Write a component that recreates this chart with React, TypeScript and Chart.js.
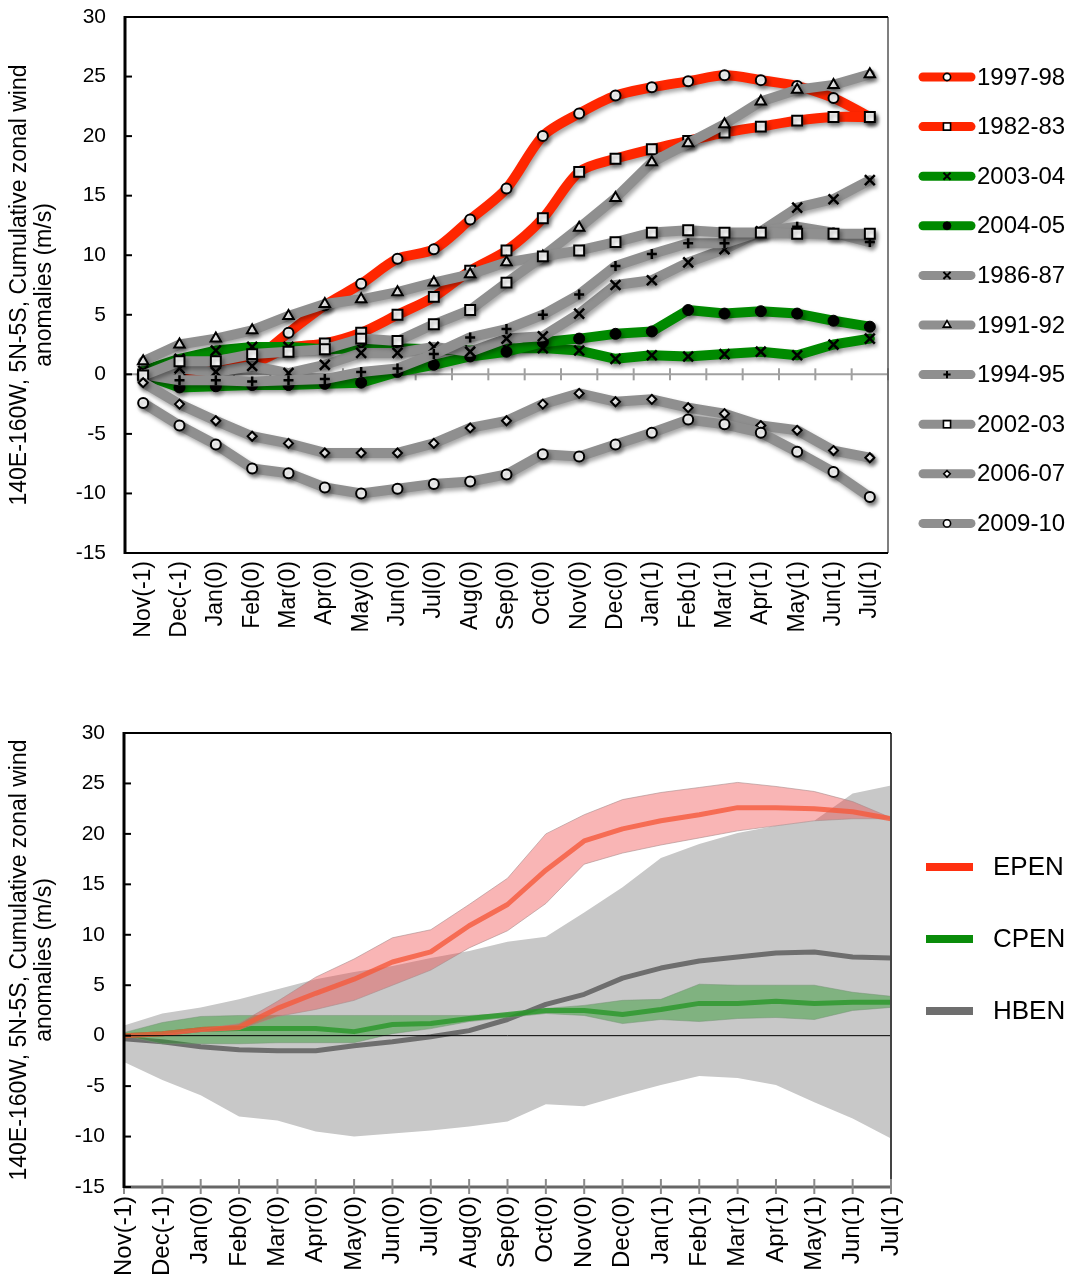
import React, { useEffect, useRef } from 'react';
import { Chart, registerables } from 'chart.js';
import { drawPoint } from 'chart.js/helpers';

Chart.register(...registerables);

const FONT = "'Liberation Sans', Arial, Helvetica, sans-serif";
Chart.defaults.font.family = FONT;
Chart.defaults.color = '#000';

// ---------------- data ----------------
const MONTHS = ['Nov(-1)', 'Dec(-1)', 'Jan(0)', 'Feb(0)', 'Mar(0)', 'Apr(0)', 'May(0)', 'Jun(0)', 'Jul(0)', 'Aug(0)', 'Sep(0)', 'Oct(0)', 'Nov(0)', 'Dec(0)', 'Jan(1)', 'Feb(1)', 'Mar(1)', 'Apr(1)', 'May(1)', 'Jun(1)', 'Jul(1)'];
const Y_MIN = -15;
const Y_MAX = 30;
const Y_STEP = 5;
const Y_TITLE = ['140E-160W, 5N-5S, Cumulative zonal wind', 'anomalies (m/s)'];

const EVENT_LABELS = ['1997-98', '1982-83', '2003-04', '2004-05', '1986-87', '1991-92', '1994-95', '2002-03', '2006-07', '2009-10'];
const EV_1997_98 = [0, -0.1, 0.5, 1.2, 3.5, 5.8, 7.6, 9.7, 10.5, 13.0, 15.6, 20.0, 21.9, 23.4, 24.1, 24.6, 25.1, 24.7, 24.2, 23.2, 21.6];
const EV_1982_83 = [0, 0, 0.3, 0.9, 2.2, 2.6, 3.5, 5.0, 6.5, 8.7, 10.4, 13.1, 17.0, 18.1, 18.9, 19.6, 20.3, 20.8, 21.3, 21.6, 21.6];
const EV_2003_04 = [0.3, 1.3, 2.0, 2.3, 2.3, 2.1, 2.2, 2.2, 2.1, 2.0, 2.2, 2.2, 2.0, 1.3, 1.6, 1.5, 1.7, 1.9, 1.6, 2.5, 3.0];
const EV_2004_05 = [0, -1.1, -1.0, -0.9, -0.9, -0.8, -0.7, 0.2, 0.8, 1.5, 1.9, 2.7, 3.0, 3.4, 3.6, 5.4, 5.1, 5.3, 5.1, 4.5, 4.0];
const EV_1986_87 = [0, 0.5, 0.2, 0.7, 0.1, 0.8, 1.8, 1.8, 2.3, 1.9, 3.0, 3.2, 5.1, 7.5, 7.9, 9.4, 10.5, 12.0, 14.0, 14.7, 16.3];
const EV_1991_92 = [1.1, 2.5, 3.0, 3.7, 4.9, 5.9, 6.3, 6.9, 7.7, 8.4, 9.4, 9.9, 12.3, 14.8, 17.8, 19.4, 21.0, 22.9, 23.9, 24.3, 25.2];
const EV_1994_95 = [0, -0.5, -0.5, -0.6, -0.5, -0.4, 0.2, 0.5, 1.7, 3.1, 3.8, 5.0, 6.7, 9.1, 10.1, 11.0, 11.0, 12.0, 12.4, 11.9, 11.1];
const EV_2002_03 = [-0.1, 1.1, 1.1, 1.7, 1.9, 2.1, 3.0, 2.8, 4.2, 5.4, 7.7, 9.9, 10.4, 11.1, 11.9, 12.1, 11.9, 11.9, 11.8, 11.8, 11.8];
const EV_2006_07 = [-0.7, -2.5, -3.9, -5.2, -5.8, -6.6, -6.6, -6.6, -5.8, -4.5, -3.9, -2.5, -1.6, -2.3, -2.1, -2.8, -3.3, -4.3, -4.7, -6.4, -7.0];
const EV_2009_10 = [-2.4, -4.3, -5.9, -7.9, -8.3, -9.5, -10.0, -9.6, -9.2, -9.0, -8.4, -6.7, -6.9, -5.9, -4.9, -3.8, -4.2, -4.9, -6.5, -8.2, -10.3];
const EVENT_VALUES = [EV_1997_98, EV_1982_83, EV_2003_04, EV_2004_05, EV_1986_87, EV_1991_92, EV_1994_95, EV_2002_03, EV_2006_07, EV_2009_10];

const GROUP_LABELS = ['EPEN', 'CPEN', 'HBEN'];
const EPEN_MEAN = [0, 0.2, 0.6, 0.8, 2.7, 4.2, 5.6, 7.3, 8.3, 10.9, 13.0, 16.4, 19.3, 20.5, 21.3, 21.9, 22.6, 22.6, 22.5, 22.2, 21.5];
const EPEN_HIGH = [0, 0.1, 0.6, 1.2, 3.4, 5.8, 7.6, 9.7, 10.5, 13.0, 15.6, 20.0, 21.9, 23.4, 24.1, 24.6, 25.1, 24.7, 24.2, 23.2, 21.6];
const EPEN_LOW = [0, 0, 0.4, 0.6, 1.9, 2.6, 3.5, 5.0, 6.5, 8.7, 10.4, 13.1, 17.0, 18.1, 18.9, 19.6, 20.3, 20.8, 21.3, 21.5, 21.5];
const CPEN_MEAN = [0, 0.2, 0.6, 0.7, 0.7, 0.7, 0.4, 1.1, 1.2, 1.7, 2.1, 2.5, 2.5, 2.1, 2.6, 3.2, 3.2, 3.4, 3.2, 3.3, 3.3];
const CPEN_HIGH = [0.3, 1.3, 1.9, 2.0, 2.0, 2.0, 2.0, 2.0, 2.0, 2.0, 2.2, 2.7, 3.0, 3.5, 3.6, 5.1, 5.0, 5.0, 5.0, 4.3, 3.9];
const CPEN_LOW = [0, -0.8, -0.8, -0.8, -0.7, -0.7, -0.7, 0.2, 0.7, 1.4, 1.8, 2.2, 2.0, 1.2, 1.6, 1.4, 1.7, 1.8, 1.6, 2.5, 2.8];
const HBEN_MEAN = [-0.3, -0.6, -1.1, -1.4, -1.5, -1.5, -1.0, -0.6, -0.1, 0.5, 1.6, 3.1, 4.1, 5.7, 6.7, 7.4, 7.8, 8.2, 8.3, 7.8, 7.7];
const HBEN_HIGH = [1.0, 2.2, 2.8, 3.6, 4.6, 5.6, 6.3, 6.9, 7.7, 8.4, 9.3, 9.8, 12.2, 14.7, 17.6, 19.0, 20.1, 20.8, 21.3, 24.0, 24.8];
const HBEN_LOW = [-2.6, -4.4, -5.9, -8.0, -8.4, -9.5, -10.0, -9.7, -9.4, -9.0, -8.5, -6.8, -7.0, -5.9, -4.9, -4.0, -4.2, -4.9, -6.6, -8.2, -10.2];

// ---------------- styles ----------------
const RED = 'rgb(255,38,0)';
const GREEN = 'rgb(0,138,0)';
const GRAY = 'rgb(143,143,143)';
const EVENT_STYLES = [
  { color: RED, smooth: true, marker: 'circle', radius: 5, fill: '#fff', bw: 2 },
  { color: RED, smooth: true, marker: 'rect', radius: 7, fill: '#fff', bw: 2 },
  { color: GREEN, smooth: false, marker: 'crossRot', radius: 7, fill: '#000', bw: 2.5 },
  { color: GREEN, smooth: false, marker: 'circle', radius: 5.5, fill: '#000', bw: 1 },
  { color: GRAY, smooth: false, marker: 'crossRot', radius: 7, fill: '#000', bw: 2.5 },
  { color: GRAY, smooth: false, marker: 'triangle', radius: 6, fill: '#fff', bw: 2 },
  { color: GRAY, smooth: false, marker: 'cross', radius: 5, fill: '#000', bw: 2.5 },
  { color: GRAY, smooth: false, marker: 'rect', radius: 7, fill: '#fff', bw: 2 },
  { color: GRAY, smooth: false, marker: 'rectRot', radius: 4.5, fill: '#fff', bw: 2 },
  { color: GRAY, smooth: false, marker: 'circle', radius: 5, fill: '#fff', bw: 2 },
];

function line(ctx, x1, y1, x2, y2, color, w) {
  ctx.strokeStyle = color;
  ctx.lineWidth = w;
  ctx.beginPath();
  ctx.moveTo(x1, y1);
  ctx.lineTo(x2, y2);
  ctx.stroke();
}

function drawYTicksInside(chart) {
  const { ctx, chartArea: a, scales } = chart;
  scales.y.ticks.forEach((t) => {
    const y = scales.y.getPixelForValue(t.value);
    line(ctx, a.left, y, a.left + 7, y, '#000', 2);
  });
}

const topDecor = {
  id: 'topDecor',
  beforeDatasetsDraw(chart) {
    const { ctx, chartArea: a, scales } = chart;
    const y0 = scales.y.getPixelForValue(0);
    ctx.save();
    line(ctx, a.left, y0, a.right, y0, '#a0a0a0', 2);
    for (let i = 1; i <= MONTHS.length; i++) {
      const x = scales.x.getPixelForValue(i - 0.5);
      line(ctx, x, y0 - 6, x, y0 + 6, '#a0a0a0', 2);
    }
    ctx.restore();
    ctx.save();
    ctx.shadowColor = 'rgba(0,0,0,0.35)';
    ctx.shadowBlur = 4;
    ctx.shadowOffsetX = 2;
    ctx.shadowOffsetY = 3;
  },
  afterDatasetsDraw(chart) {
    const { ctx, chartArea: a } = chart;
    ctx.restore();
    ctx.save();
    line(ctx, a.right, a.top, a.right, a.bottom, '#555', 1.5);
    line(ctx, a.left, a.top, a.right, a.top, '#000', 2);
    line(ctx, a.left, a.bottom, a.right, a.bottom, '#000', 2);
    line(ctx, a.left, a.top - 1, a.left, a.bottom + 1, '#000', 3);
    drawYTicksInside(chart);
    ctx.restore();
  },
  afterDraw(chart) {
    const { ctx } = chart;
    ctx.save();
    chart.data.datasets.forEach((ds, i) => {
      const st = EVENT_STYLES[i];
      const y = 77 + i * 49.6;
      ctx.lineCap = 'round';
      line(ctx, 923, y, 971, y, st.color, 9);
      ctx.lineCap = 'butt';
      ctx.fillStyle = st.fill;
      ctx.strokeStyle = '#000';
      ctx.lineWidth = st.bw * 0.8;
      drawPoint(ctx, { pointStyle: st.marker, radius: st.radius * 0.72, borderWidth: st.bw * 0.8, rotation: 0 }, 947, y);
      ctx.fillStyle = '#000';
      ctx.font = `24px ${FONT}`;
      ctx.textBaseline = 'middle';
      ctx.textAlign = 'left';
      ctx.fillText(ds.label, 977, y + 1);
    });
    ctx.restore();
  },
};

const bottomDecor = {
  id: 'bottomDecor',
  afterDatasetsDraw(chart) {
    const { ctx, chartArea: a, scales } = chart;
    ctx.save();
    const y0 = scales.y.getPixelForValue(0);
    line(ctx, a.left, y0, a.right, y0, '#000', 1);
    line(ctx, a.right, a.top, a.right, a.bottom, '#444', 2);
    line(ctx, a.left, a.top, a.right, a.top, '#000', 2);
    line(ctx, a.left, a.bottom, a.right, a.bottom, '#666', 3);
    for (let i = 0; i < MONTHS.length; i++) {
      const x = scales.x.getPixelForValue(i);
      line(ctx, x, a.bottom - 8, x, a.bottom + 7, '#8a8a8a', 2);
    }
    line(ctx, a.left, a.top - 1, a.left, a.bottom + 1, '#000', 3);
    drawYTicksInside(chart);
    ctx.restore();
  },
  afterDraw(chart) {
    const { ctx } = chart;
    const colors = ['rgb(255,48,16)', 'rgb(10,140,10)', 'rgb(110,110,110)'];
    ctx.save();
    GROUP_LABELS.forEach((lab, i) => {
      const y = 212 + i * 72;
      ctx.lineCap = 'butt';
      line(ctx, 926, y, 973, y, colors[i], 8);
      ctx.fillStyle = '#000';
      ctx.font = `26px ${FONT}`;
      ctx.textBaseline = 'middle';
      ctx.textAlign = 'left';
      ctx.fillText(lab, 993, y + 1);
    });
    ctx.restore();
  },
};

function yScale(width) {
  return {
    min: Y_MIN,
    max: Y_MAX,
    grid: { display: false, drawTicks: true, tickLength: 19 },
    border: { display: false },
    ticks: { stepSize: Y_STEP, padding: 0, font: { size: 21 }, color: '#000' },
    title: { display: true, text: Y_TITLE, font: { size: 23, lineHeight: 1.1 }, padding: { top: 7, bottom: 0 }, color: '#000' },
    afterFit: (s) => { s.width = width; },
  };
}

function topConfig() {
  const datasets = EVENT_VALUES.map((vals, i) => {
    const st = EVENT_STYLES[i];
    return {
      label: EVENT_LABELS[i],
      data: vals,
      borderColor: st.color,
      backgroundColor: st.color,
      borderWidth: 10,
      borderCapStyle: 'round',
      borderJoinStyle: 'round',
      tension: st.smooth ? 0.3 : 0,
      pointStyle: st.marker,
      pointRadius: st.radius,
      pointBorderWidth: st.bw,
      pointBorderColor: '#000',
      pointBackgroundColor: st.fill,
      fill: false,
      order: EVENT_VALUES.length - i,
    };
  });
  return {
    type: 'line',
    data: { labels: MONTHS, datasets },
    options: {
      responsive: false,
      animation: false,
      events: [],
      layout: { autoPadding: false, padding: { top: 17, right: 184, left: 0, bottom: 0 } },
      plugins: { legend: { display: false }, tooltip: { enabled: false } },
      scales: {
        x: {
          offset: true,
          grid: { display: false, drawTicks: false },
          border: { display: false },
          ticks: { autoSkip: false, minRotation: 90, maxRotation: 90, padding: 8, font: { size: 23 }, color: '#000' },
          afterFit: (s) => { s.height = 102; },
        },
        y: yScale(125),
      },
    },
    plugins: [topDecor],
  };
}

function band(data, fillColor, edge, order) {
  return {
    label: '',
    data,
    borderColor: edge,
    borderWidth: 1,
    pointRadius: 0,
    backgroundColor: fillColor,
    fill: '+1',
    tension: 0,
    order,
  };
}
function edgeLine(data, edge, order) {
  return { label: '', data, borderColor: edge, borderWidth: 1, pointRadius: 0, fill: false, tension: 0, order };
}
function meanLine(label, data, color, order) {
  return { label, data, borderColor: color, borderWidth: 5, pointRadius: 0, fill: false, tension: 0, order, borderJoinStyle: 'round' };
}

function bottomConfig() {
  const last = MONTHS[MONTHS.length - 1];
  const datasets = [
    band(HBEN_HIGH, 'rgb(200,200,200)', 'transparent', 10),
    edgeLine(HBEN_LOW, 'transparent', 9),
    meanLine(GROUP_LABELS[2], HBEN_MEAN, 'rgb(110,110,110)', 8),
    band(CPEN_HIGH, 'rgba(40,150,40,0.45)', 'rgba(120,150,120,0.5)', 7),
    edgeLine(CPEN_LOW, 'rgba(120,150,120,0.5)', 6),
    meanLine(GROUP_LABELS[1], CPEN_MEAN, 'rgba(40,150,40,0.8)', 5),
    band(EPEN_HIGH, 'rgba(240,60,60,0.38)', 'rgba(170,140,140,0.6)', 4),
    edgeLine(EPEN_LOW, 'rgba(170,140,140,0.6)', 3),
    meanLine(GROUP_LABELS[0], EPEN_MEAN, 'rgba(245,90,60,0.8)', 2),
    {
      label: '',
      data: [{ x: last, y: EPEN_MEAN[EPEN_MEAN.length - 1] }, { x: last, y: Y_MIN }],
      borderColor: 'rgba(210,60,45,0.9)',
      borderWidth: 2,
      pointRadius: 0,
      fill: false,
      order: 1,
    },
  ];
  return {
    type: 'line',
    data: { labels: MONTHS, datasets },
    options: {
      responsive: false,
      animation: false,
      events: [],
      layout: { autoPadding: false, padding: { top: 78, right: 181, left: 0, bottom: 0 } },
      plugins: { legend: { display: false }, tooltip: { enabled: false } },
      scales: {
        x: {
          offset: false,
          grid: { display: false, drawTicks: false },
          border: { display: false },
          ticks: { autoSkip: false, minRotation: 90, maxRotation: 90, padding: 9, font: { size: 24 }, color: '#000' },
          afterFit: (s) => { s.height = 93; },
        },
        y: yScale(124),
      },
    },
    plugins: [bottomDecor],
  };
}

function ChartCanvas({ config, width, height, top }) {
  const ref = useRef(null);
  useEffect(() => {
    const chart = new Chart(ref.current, config());
    return () => chart.destroy();
  }, []);
  return (
    <canvas
      ref={ref}
      width={width}
      height={height}
      style={{ position: 'absolute', left: 0, top, width, height, display: 'block' }}
    />
  );
}

export default function App() {
  return (
    <div style={{ position: 'absolute', left: 0, top: 0, width: 1072, height: 1280, background: '#fff' }}>
      <ChartCanvas config={topConfig} width={1072} height={655} top={0} />
      <ChartCanvas config={bottomConfig} width={1072} height={625} top={655} />
    </div>
  );
}
